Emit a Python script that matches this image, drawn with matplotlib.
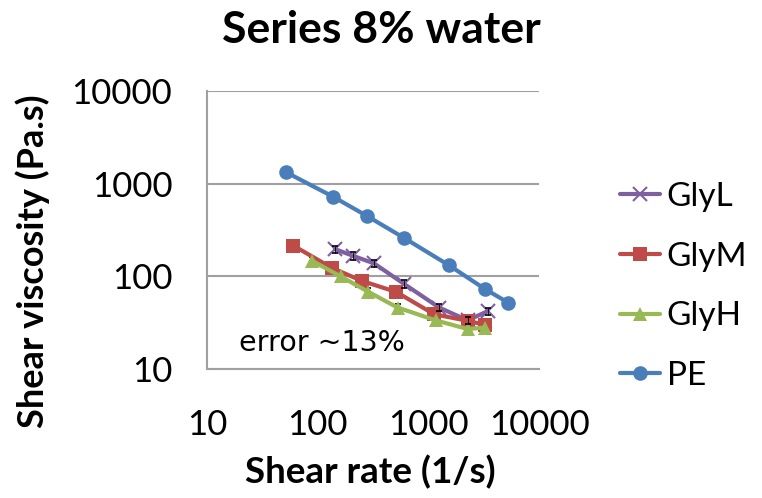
import matplotlib
matplotlib.use("Agg")
import matplotlib.pyplot as plt

# Viscosity curves, 8% water series
glyl_rate = [143, 207, 323, 602, 1254, 2265, 3435]
glyl_visc = [197, 167, 138, 83, 46, 33.5, 42]

glym_rate = [60, 135, 253, 510, 1130, 2290, 3245]
glym_visc = [215, 123, 89, 68, 39, 33, 30]

glyh_rate = [89, 161, 287, 528, 1165, 2265, 3245]
glyh_visc = [147, 100, 68, 46, 33.5, 27, 28]

pe_rate = [51.7, 137, 277, 606, 1545, 3245, 5270]
pe_visc = [1330, 726, 450, 259, 131, 73, 52]

err_frac = 0.13
tick_vals = [10, 100, 1000, 10000]
tick_labels = ["10", "100", "1000", "10000"]

plt.rcParams["font.family"] = ["Lato", "DejaVu Sans"]

fig = plt.figure(figsize=(7.62, 4.98), dpi=100)
ax = fig.add_axes([207 / 762, 1 - 369 / 498, 332 / 762, 278 / 498])

series = [
    ("GlyL", glyl_rate, glyl_visc, "#7E60A0", "x", 9.5),
    ("GlyM", glym_rate, glym_visc, "#BE4B48", "s", 10),
    ("GlyH", glyh_rate, glyh_visc, "#98B954", "^", 10),
    ("PE", pe_rate, pe_visc, "#4A7EBB", "o", 10.5),
]

for name, xs, ys, col, mk, ms in series:
    ax.plot(xs, ys, color=col, lw=3, marker=mk, ms=ms, mew=1.5 if mk == "x" else 0,
            mec=col, mfc=col, label=name, zorder=3, solid_capstyle="round")
    if name != "PE":
        # small black error caps, mostly hidden behind the markers
        ax.errorbar(xs, ys, yerr=[v * err_frac * 0.7 for v in ys], fmt="none", ecolor="black",
                    elinewidth=0.6, capsize=2, capthick=1.2, zorder=3.5 if name == "GlyL" else 2.5)

ax.set_xscale("log")
ax.set_yscale("log")
ax.set_xlim(10, 10000)
ax.set_ylim(10, 10000)
ax.set_xticks(tick_vals)
ax.set_xticklabels(tick_labels)
ax.set_yticks(tick_vals)
ax.set_yticklabels(tick_labels)
ax.minorticks_off()
ax.tick_params(length=0, labelsize=25)
ax.tick_params(axis="y", pad=25)
ax.tick_params(axis="x", pad=29)

ax.grid(axis="y", color="#A0A0A0", lw=1.5)
for s in ["top", "right"]:
    ax.spines[s].set_visible(False)
for s in ["left", "bottom"]:
    ax.spines[s].set_color("#A0A0A0")
    ax.spines[s].set_linewidth(1.5)

ax.text(32 / 332, 26 / 278, "error ~13%", fontsize=20.5, family="DejaVu Sans",
        va="center", ha="left", transform=ax.transAxes)

fig.text(0.5, 1 - 30 / 498, "Series 8% water", ha="center", va="center",
         fontsize=32, fontweight="bold")
fig.text(370 / 762, 1 - 472 / 498, "Shear rate (1/s)", ha="center", va="center",
         fontsize=26.5, fontweight="bold")
fig.text(33 / 762, 1 - 261 / 498, "Shear viscosity (Pa.s)", ha="center", va="center",
         rotation=90, fontsize=26, fontweight="bold")

fig.legend(loc="upper left", bbox_to_anchor=(610 / 762, 1 - 172 / 498), frameon=False,
           fontsize=24, handlelength=1.2, handletextpad=0.2, labelspacing=0.89,
           borderaxespad=0, borderpad=0.3)

fig.savefig("out.png", dpi=100)
